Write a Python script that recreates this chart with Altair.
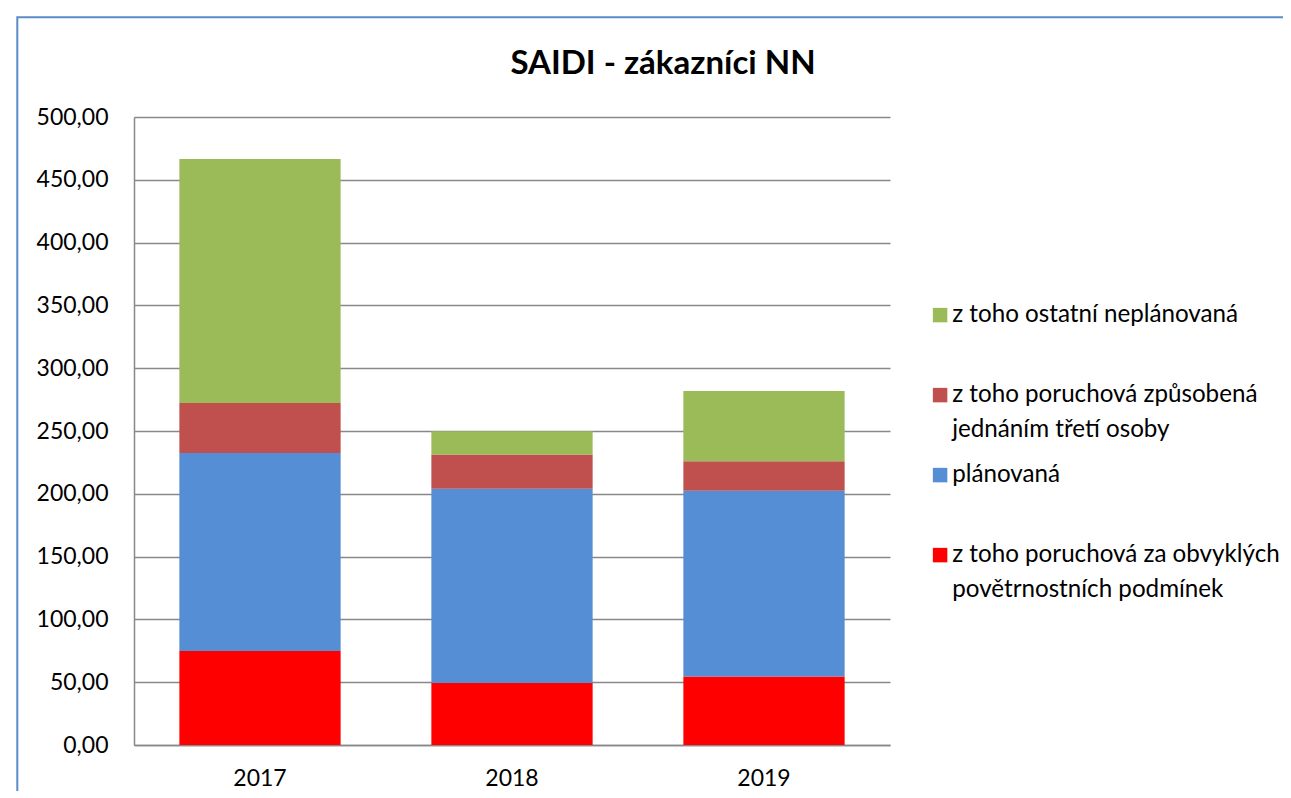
import altair as alt
import pandas as pd

# ---- data ----
years = ["2017", "2018", "2019"]
series = [
    "z toho poruchová za obvyklých povětrnostních podmínek",
    "plánovaná",
    "z toho poruchová způsobená jednáním třetí osoby",
    "z toho ostatní neplánovaná",
]
legend_lines = [
    ["z toho poruchová za obvyklých", "povětrnostních podmínek"],
    ["plánovaná"],
    ["z toho poruchová způsobená", "jednáním třetí osoby"],
    ["z toho ostatní neplánovaná"],
]
colors = ["#FF0000", "#558ED5", "#C0504D", "#9BBB59"]
v_pocasi = [74.8, 49.4, 54.5]
v_planovana = [157.7, 154.7, 148.0]
v_treti = [39.8, 27.1, 23.4]
v_ostatni = [194.3, 18.6, 55.9]
y_ticks = [0, 50, 100, 150, 200, 250, 300, 350, 400, 450, 500]
title_text = "SAIDI - zákazníci NN"

rows = []
for si, (name, vals) in enumerate(zip(series, [v_pocasi, v_planovana, v_treti, v_ostatni])):
    for yr, v in zip(years, vals):
        rows.append({"rok": yr, "serie": name, "hodnota": v, "poradi": si})
df = pd.DataFrame(rows)

legend_order = series[::-1]
legend_colors = colors[::-1]


def js_list(lines):
    return "[" + ",".join("'" + l + "'" for l in lines) + "]"


label_expr = "datum.label"
for name, lines in zip(series, legend_lines):
    if len(lines) > 1:
        label_expr = f"datum.label === '{name}' ? {js_list(lines)} : " + label_expr

GRID = "#888888"

bars = alt.Chart(df).mark_bar().encode(
    x=alt.X(
        "rok:N",
        sort=years,
        scale=alt.Scale(paddingInner=0.36, paddingOuter=0.18),
        axis=alt.Axis(
            title=None, labelAngle=0, ticks=False, tickSize=0, labelPadding=22,
            labelFontSize=23, labelColor="#000000", domainColor=GRID,
            domainWidth=1.5, grid=False,
        ),
    ),
    y=alt.Y(
        "hodnota:Q",
        stack="zero",
        scale=alt.Scale(domain=[0, 500], nice=False),
        axis=alt.Axis(
            title=None, values=y_ticks,
            labelExpr="replace(format(datum.value, '.2f'), '.', ',')",
            ticks=False, tickSize=0, labelPadding=26, labelFontSize=23,
            labelColor="#000000", gridColor=GRID, gridWidth=1.5,
            domainColor=GRID, domainWidth=1.5,
        ),
    ),
    color=alt.Color(
        "serie:N",
        scale=alt.Scale(domain=legend_order, range=legend_colors),
        legend=alt.Legend(
            title=None, orient="none", legendX=794, legendY=186,
            symbolType="square", symbolSize=210, symbolStrokeWidth=0,
            labelFontSize=24.2, labelColor="#000000", labelLimit=600,
            labelExpr=label_expr, gridAlign="all", rowPadding=20,
            padding=0, labelOffset=0,
        ),
    ),
    order=alt.Order("poradi:Q", sort="ascending"),
)

border = alt.Chart(pd.DataFrame({"k": [0]})).mark_rect(
    fillOpacity=0, stroke="#5B8BC9", strokeWidth=2
).encode(
    x=alt.value(-116.7), x2=alt.value(1175),
    y=alt.value(-99.7), y2=alt.value(700),
)

chart = alt.layer(border, bars).properties(
    width=756,
    height=628,
    title=alt.TitleParams(
        title_text, font="Lato", fontSize=33, fontWeight="bold",
        color="#000000", anchor="middle", dx=151, offset=0, dy=91,
        baseline="alphabetic",
    ),
    autosize=alt.AutoSizeParams(type="none"),
    padding={"left": 126, "top": 109, "right": 393, "bottom": 46},
).configure(
    font="Lato",
    style={"guide-label": {"lineHeight": 35}},
).configure_view(strokeWidth=0)

chart.save("out.html", embed_options={"renderer": "svg", "actions": False})
